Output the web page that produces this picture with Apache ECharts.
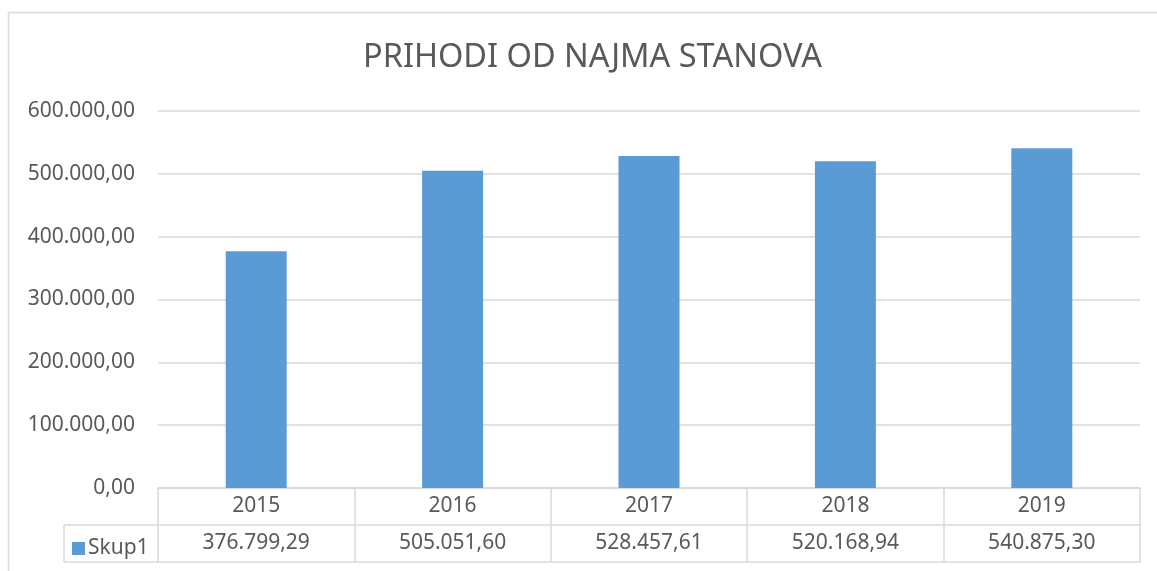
<!DOCTYPE html>
<html>
<head>
<meta charset="utf-8">
<script src="https://cdn.jsdelivr.net/npm/echarts@6/dist/echarts.min.js"></script>
<style>
  html, body { margin: 0; padding: 0; background: #fff; }
  #chart { width: 1157px; height: 571px; }
</style>
</head>
<body>
<div id="chart"></div>
<script>
const years = ['2015', '2016', '2017', '2018', '2019']
const values = [376799.29, 505051.60, 528457.61, 520168.94, 540875.30]
const seriesName = 'Skup1'
const chartTitle = 'PRIHODI OD NAJMA STANOVA'

// 1234567.8 -> 1.234.567,80
function fmt(v) {
  const parts = v.toFixed(2).split('.')
  return parts[0].replace(/\B(?=(\d{3})+(?!\d))/g, '.') + ',' + parts[1]
}

const textColor = '#595959'
const lineColor = '#d9d9d9'
const font = '"Noto Sans", "Open Sans", sans-serif'

const chart = echarts.init(document.getElementById('chart'))
const option = {
  animation: false,
  title: {
    text: chartTitle,
    left: 358,
    top: 36,
    textStyle: {
      color: textColor,
      fontSize: 32.5,
      fontWeight: 'normal',
      fontFamily: font
    }
  },
  legend: {
    data: [seriesName],
    left: 67,
    top: 533,
    icon: 'rect',
    itemWidth: 13,
    itemHeight: 13,
    itemGap: 5,
    textStyle: {
      color: textColor,
      fontSize: 21,
      fontFamily: font,
      padding: [0, 0, 0, -2]
    }
  },
  grid: {
    left: 158,
    right: 17,
    top: 111,
    bottom: 83,
    containLabel: false
  },
  xAxis: [{
    type: 'category',
    data: years,
    boundaryGap: true,
    axisLine: { lineStyle: { color: lineColor, width: 1.5 } },
    axisTick: {
      show: true,
      alignWithLabel: false,
      length: 74,
      lineStyle: { color: lineColor, width: 1.5 }
    },
    axisLabel: {
      color: textColor,
      fontSize: 21,
      fontFamily: font,
      margin: 8
    }
  }, {
    type: 'category',
    data: years,
    position: 'bottom',
    offset: 37,
    axisLine: { show: false },
    axisTick: { show: false },
    axisLabel: {
      color: textColor,
      fontSize: 21,
      fontFamily: font,
      margin: 8,
      formatter: (val, idx) => fmt(values[idx])
    }
  }],
  yAxis: {
    type: 'value',
    min: 0,
    max: 600000,
    interval: 100000,
    axisLine: { show: false },
    axisTick: { show: false },
    splitLine: { lineStyle: { color: lineColor, width: 1.5 } },
    axisLabel: {
      color: textColor,
      fontSize: 21,
      fontFamily: font,
      margin: 23,
      formatter: v => fmt(v)
    }
  },
  series: [{
    name: seriesName,
    type: 'bar',
    data: values,
    barWidth: 61,
    itemStyle: { color: '#5b9bd5' }
  }],
  graphic: [
    // chart outer border
    { type: 'rect', shape: { x: 8.5, y: 12.5, width: 1170, height: 600 },
      style: { fill: 'none', stroke: lineColor, lineWidth: 1.5 }, silent: true },
    // data table lines
    { type: 'line', shape: { x1: 64, y1: 525, x2: 1140, y2: 525 },
      style: { stroke: lineColor, lineWidth: 1.5 }, silent: true },
    { type: 'line', shape: { x1: 64, y1: 562, x2: 1140, y2: 562 },
      style: { stroke: lineColor, lineWidth: 1.5 }, silent: true },
    { type: 'line', shape: { x1: 64, y1: 525, x2: 64, y2: 562 },
      style: { stroke: lineColor, lineWidth: 1.5 }, silent: true }
  ]
}
chart.setOption(option)
</script>
</body>
</html>
